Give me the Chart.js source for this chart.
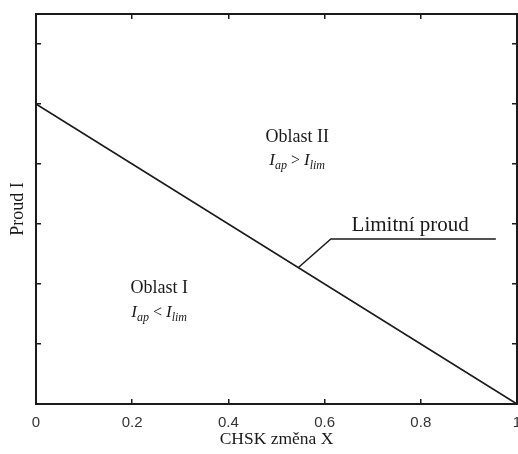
<!DOCTYPE html>
<html><head><meta charset="utf-8">
<script src="https://cdn.jsdelivr.net/npm/chart.js@4.4.1/dist/chart.umd.min.js"></script>
<style>html,body{margin:0;padding:0;background:#fff;}#wrap{width:518px;height:454px;}</style>
</head><body><div id="wrap"><canvas id="c" width="518" height="454"></canvas></div>
<script>
// ---- data ----
const xTickValues = [0, 0.2, 0.4, 0.6, 0.8, 1];
const xTickLabels = ['0', '0.2', '0.4', '0.6', '0.8', '1'];
const limitX = [0, 1];
const limitY = [5, 0];
const leaderX = [0.545, 0.613, 0.956];
const leaderY = [2.27, 2.75, 2.75];
const xTitle = 'CHSK změna X';
const yTitle = 'Proud I';
const regionNames = ['Oblast II', 'Oblast I'];
const regionOps = ['>', '<'];
const currentSymbol = 'I';
const subApplied = 'ap';
const subLimit = 'lim';
const leaderLabel = 'Limitní proud';

const INK = '#1a1a1a';
const toPts = (xs, ys) => xs.map((v, i) => ({x: v, y: ys[i]}));
const setXTicks = s => { s.ticks = xTickValues.map(v => ({value: v})); };
const noPad = s => { s.paddingLeft = 0; s.paddingRight = 0; s.paddingTop = 0; s.paddingBottom = 0; };

const gridOpt = {drawOnChartArea: false, drawTicks: true, tickLength: -5, color: INK, lineWidth: 1.5};
const borderOpt = {display: true, color: INK, width: 2};

const textPlugin = {
  id: 'annotText',
  afterDatasetsDraw(chart) {
    const ctx = chart.ctx;
    const xs = chart.scales.x, ys = chart.scales.y;
    const px = v => xs.getPixelForValue(v), py = v => ys.getPixelForValue(v);
    ctx.save();
    ctx.fillStyle = INK;
    ctx.textBaseline = 'alphabetic';
    ctx.textAlign = 'center';
    ctx.font = '18px "Liberation Serif"';
    ctx.fillText(regionNames[0], px(0.543), py(4.37));
    ctx.fillText(regionNames[1], px(0.256), py(1.85));
    ctx.font = '21px "Liberation Serif"';
    ctx.fillText(leaderLabel, px(0.778), py(2.88));

    function ineq(op, cx, by) {
      const parts = [
        {t: currentSymbol, f: 'italic 17px "Liberation Serif"', dy: 0},
        {t: subApplied, f: 'italic 12px "Liberation Serif"', dy: 4},
        {t: ' ' + op + ' ', f: '16px "Liberation Serif"', dy: 0},
        {t: currentSymbol, f: 'italic 17px "Liberation Serif"', dy: 0},
        {t: subLimit, f: 'italic 12px "Liberation Serif"', dy: 4}
      ];
      let w = 0;
      parts.forEach(p => { ctx.font = p.f; p.w = ctx.measureText(p.t).width; w += p.w; });
      let x0 = cx - w / 2;
      ctx.textAlign = 'left';
      parts.forEach(p => { ctx.font = p.f; ctx.fillText(p.t, x0, by + p.dy); x0 += p.w; });
      ctx.textAlign = 'center';
    }
    ineq(regionOps[0], px(0.543), py(3.99));
    ineq(regionOps[1], px(0.256), py(1.45));
    ctx.restore();
  }
};

new Chart(document.getElementById('c'), {
  type: 'line',
  data: {
    datasets: [
      {data: toPts(limitX, limitY), borderColor: INK, borderWidth: 1.5, pointRadius: 0, fill: false, tension: 0, clip: false},
      {data: toPts(leaderX, leaderY), borderColor: INK, borderWidth: 1.5, pointRadius: 0, fill: false, tension: 0, clip: false}
    ]
  },
  options: {
    responsive: false,
    animation: false,
    devicePixelRatio: 1,
    layout: {padding: 0},
    plugins: {legend: {display: false}, tooltip: {enabled: false}},
    scales: {
      x: {
        type: 'linear', position: 'bottom', min: 0, max: 1,
        afterBuildTicks: setXTicks,
        ticks: {callback: (v, i) => xTickLabels[i], font: {family: 'Liberation Sans', size: 15}, color: '#333', padding: 15, maxRotation: 0, autoSkip: false},
        grid: gridOpt, border: borderOpt,
        title: {display: true, text: xTitle, font: {family: 'Liberation Serif', size: 17.5}, color: INK, padding: {top: 0, bottom: 4}},
        afterFit: s => { s.height = 50; noPad(s); }
      },
      x2: {
        type: 'linear', position: 'top', min: 0, max: 1,
        afterBuildTicks: setXTicks,
        ticks: {display: false},
        grid: gridOpt, border: borderOpt,
        afterFit: s => { s.height = 14; noPad(s); }
      },
      y: {
        type: 'linear', position: 'left', min: 0, max: 6.5,
        ticks: {display: false, stepSize: 1},
        grid: gridOpt, border: borderOpt,
        title: {display: true, text: yTitle, font: {family: 'Liberation Serif', size: 18}, color: INK, padding: {top: 7, bottom: 0}},
        afterFit: s => { s.width = 36; noPad(s); }
      },
      y2: {
        type: 'linear', position: 'right', min: 0, max: 6.5,
        ticks: {display: false, stepSize: 1},
        grid: gridOpt, border: borderOpt,
        afterFit: s => { s.width = 1; noPad(s); }
      }
    }
  },
  plugins: [textPlugin]
});
</script>
</body></html>
